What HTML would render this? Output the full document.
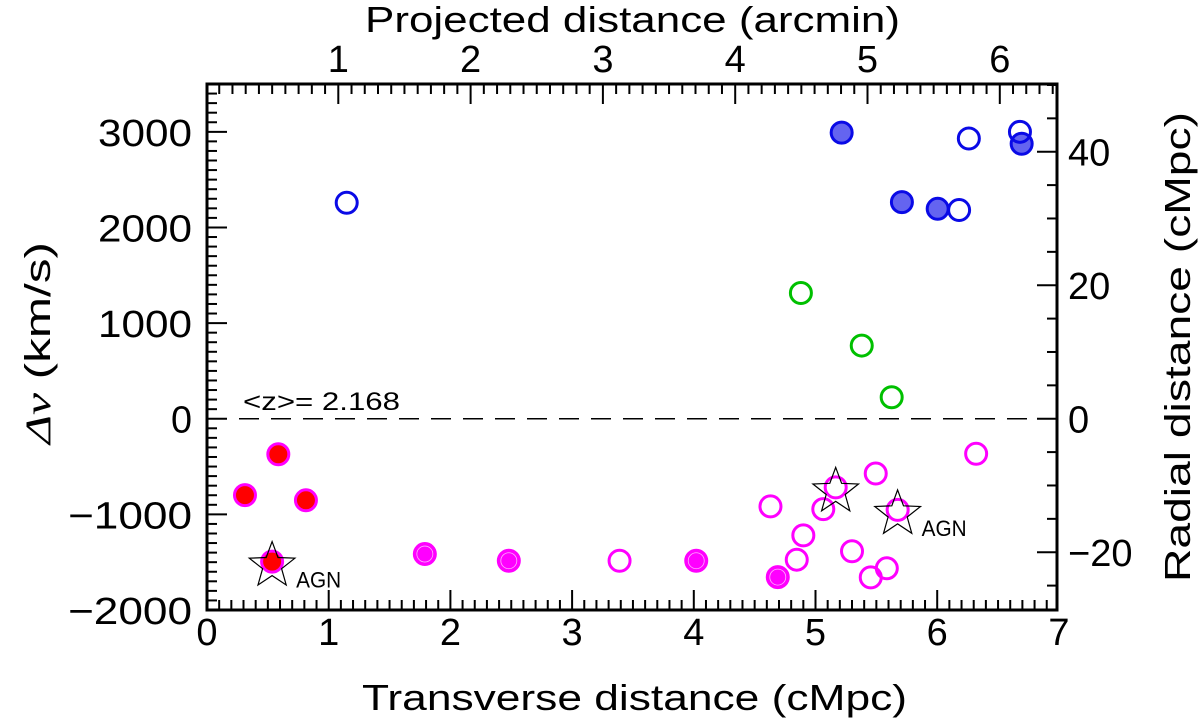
<!DOCTYPE html>
<html><head><meta charset="utf-8"><style>
html,body{margin:0;padding:0;background:#fff;}
svg{display:block;font-family:"Liberation Sans",sans-serif;}
</style></head><body>
<svg id="chart" width="1200" height="724" viewBox="0 0 1200 724" xmlns="http://www.w3.org/2000/svg">
<g id="axes"></g>
<g id="marks"></g>
<text x="362" y="710" font-size="36" textLength="545" lengthAdjust="spacingAndGlyphs">Transverse distance (cMpc)</text>
<text x="365" y="32" font-size="36" textLength="535" lengthAdjust="spacingAndGlyphs">Projected distance (arcmin)</text>
<text transform="translate(50,444) rotate(-90)" font-size="36" textLength="202" lengthAdjust="spacingAndGlyphs"><tspan font-style="italic" font-family="Liberation Serif, serif">Δv</tspan> (km/s)</text>
<text transform="translate(1190,582) rotate(-90)" font-size="36" textLength="470" lengthAdjust="spacingAndGlyphs">Radial distance (cMpc)</text>
<text x="243" y="410" font-size="25" textLength="157" lengthAdjust="spacingAndGlyphs">&lt;z&gt;= 2.168</text>
</svg>
<script>
const xTicks=[0,1,2,3,4,5,6,7];
const yTicks=[-2000,-1000,0,1000,2000,3000];
const arcTicks=[1,2,3,4,5,6];
const radTicks=[-20,0,20,40];
// series: x (cMpc), dv (km/s)
const blueFilledX=[5.215,5.71,6.004,6.694];
const blueFilledY=[2992,2265,2195,2875];
const blueOpenX=[1.148,6.68,6.26,6.18];
const blueOpenY=[2258,3000,2930,2182];
const greenX=[4.88,5.38,5.626];
const greenY=[1315,765,225];
const magOpenX=[6.32,5.495,5.166,4.63,5.064,5.675,4.90,5.30,4.846,5.586,5.454,3.39];
const magOpenY=[-366,-573,-718,-917,-945,-953,-1220,-1386,-1474,-1564,-1659,-1485];
const magFilledX=[1.79,2.48,4.02,4.69];
const magFilledY=[-1415,-1485,-1485,-1656];
const redX=[0.586,0.312,0.813,0.535];
const redY=[-371,-799,-853,-1494];
const agnX=[0.535,5.166,5.675];
const agnY=[-1494,-718,-953];
const agnLabeled=[true,false,true];

const L=207,R=1057,T=84,B=610;
const X=v=>L+v*121.7;
const Y=v=>B-(v+2000)/5500*(B-T);
const XA=a=>206+a*132.3;
const YR=r=>Y(0)-r*6.675;
const NS="http://www.w3.org/2000/svg";
function mk(parent,tag,attrs){const e=document.createElementNS(NS,tag);for(const k in attrs)e.setAttribute(k,attrs[k]);parent.appendChild(e);return e;}
const ax=document.getElementById('axes'), mg=document.getElementById('marks');
const frame=mk(ax,'rect',{x:L,y:T,width:R-L,height:B-T,fill:'none',stroke:'#000','stroke-width':3});


for(let i=0;i<=69;i++){const v=i/10;const x=X(v);if(x>R)break;const maj=i%10==0;
 mk(ax,'line',{x1:x,y1:B,x2:x,y2:B-(maj?20:10),stroke:'#000','stroke-width':2});}
xTicks.forEach(v=>{const t=mk(ax,'text',{x:X(v),y:645,'font-size':38,'text-anchor':'middle'});t.textContent=v;
 
 });
for(let i=1;i<=64;i++){const x=XA(i/10);if(x>R)break;const maj=i%10==0;
 mk(ax,'line',{x1:x,y1:T,x2:x,y2:T+(maj?20:10),stroke:'#000','stroke-width':2});}
arcTicks.forEach(v=>{const t=mk(ax,'text',{x:XA(v),y:72,'font-size':38,'text-anchor':'middle'});t.textContent=v;
 
 });
for(let v=-2000;v<=3500;v+=100){const y=Y(v);const maj=v%1000==0;
 mk(ax,'line',{x1:L,y1:y,x2:L+(maj?20:10),y2:y,stroke:'#000','stroke-width':2});}
yTicks.forEach(v=>{const s=(v<0?'\u2212':'')+Math.abs(v);
 const w=v<0?124:(v==0?21:94);
 const t=mk(ax,'text',{x:192-w,y:Y(v)+14,'font-size':38,textLength:w,lengthAdjust:'spacingAndGlyphs'});t.textContent=s;
 
 });
for(let r=-25;r<=50;r+=5){const y=YR(r);if(y<T||y>B)continue;const maj=r%20==0;
 mk(ax,'line',{x1:R,y1:y,x2:R-(maj?20:10),y2:y,stroke:'#000','stroke-width':2});}
radTicks.forEach(v=>{const t=mk(ax,'text',{x:1068,y:YR(v)+14,'font-size':38});t.textContent=(v<0?'\u2212':'')+Math.abs(v);
 
 });
const zl=mk(ax,'line',{x1:L,y1:Y(0),x2:R,y2:Y(0),stroke:'#000','stroke-width':1.5,'stroke-dasharray':'20,12'});



function pts(xs,ys,stroke,fill,name,inner){
 xs.forEach((v,i)=>{const c=mk(mg,'circle',{cx:X(v),cy:Y(ys[i]),r:10.5,stroke:stroke,'stroke-width':3,fill:fill});
  
  
  if(inner)mk(mg,'circle',{cx:X(v),cy:Y(ys[i]),r:8,stroke:inner,'stroke-width':0.8,fill:'none'});});
}
pts(blueFilledX,blueFilledY,'#0a0ae6','#6464f0','blue-filled-point');
pts(blueOpenX,blueOpenY,'#0a0ae6','none','blue-open-point');
pts(greenX,greenY,'#00c000','none','green-open-point');
pts(magOpenX,magOpenY,'#ff00ff','none','magenta-open-point');
pts(magFilledX,magFilledY,'#ff00ff','#ff00ff','magenta-filled-point','#ffb0ff');
pts(redX,redY,'#ff00ff','#ff0000','red-filled-point');
agnX.forEach((v,i)=>{const cx=X(v),cy=Y(agnY[i]);let p='';
 for(let k=0;k<10;k++){const r=k%2?10:24;const a=-Math.PI/2+k*Math.PI/5;p+=(cx+r*Math.cos(a)).toFixed(1)+','+(cy+4+r*Math.sin(a)).toFixed(1)+' ';}
 const s=mk(mg,'polygon',{points:p,fill:'none',stroke:'#000','stroke-width':1.2});
 
 
 if(agnLabeled[i]){const t=mk(mg,'text',{x:cx+24,y:cy+26,'font-size':22,textLength:45,lengthAdjust:'spacingAndGlyphs'});t.textContent='AGN';
  
  }
});
</script>
</body></html>
